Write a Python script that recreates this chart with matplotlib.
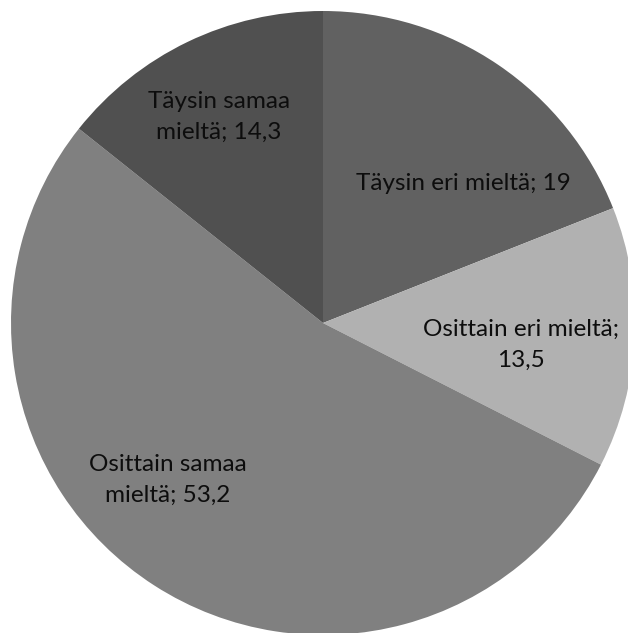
import matplotlib
matplotlib.use("Agg")
import matplotlib.pyplot as plt

labels = ["Täysin eri mieltä", "Osittain eri mieltä", "Osittain samaa mieltä", "Täysin samaa mieltä"]
values = [19, 13.5, 53.2, 14.3]
label_texts = ["Täysin eri mieltä; 19", "Osittain eri mieltä;\n13,5", "Osittain samaa\nmieltä; 53,2", "Täysin samaa\nmieltä; 14,3"]
colors = ["#616161", "#b1b1b1", "#808080", "#505050"]

W, H = 628, 633
cx, cy, R = 323, 323, 312
fig = plt.figure(figsize=(W / 100, H / 100), dpi=100)
ax = fig.add_axes([(cx - R) / W, (H - cy - R) / H, 2 * R / W, 2 * R / H])
ax.pie(values, colors=colors, startangle=90, counterclock=False, radius=1,
       wedgeprops=dict(linewidth=0))
ax.set_xlim(-1, 1)
ax.set_ylim(-1, 1)
ax.set_aspect("equal")
ax.axis("off")

label_px = [(463, 183), (521, 345), (168, 480), (219, 117)]
for txt, (px, py) in zip(label_texts, label_px):
    ax.text((px - cx) / R, (cy - py) / R, txt, ha="center", va="center",
            fontsize=17.5, family=["Lato", "DejaVu Sans"], color="#0d0d0d", linespacing=1.55)

fig.savefig("out.png", dpi=100)
